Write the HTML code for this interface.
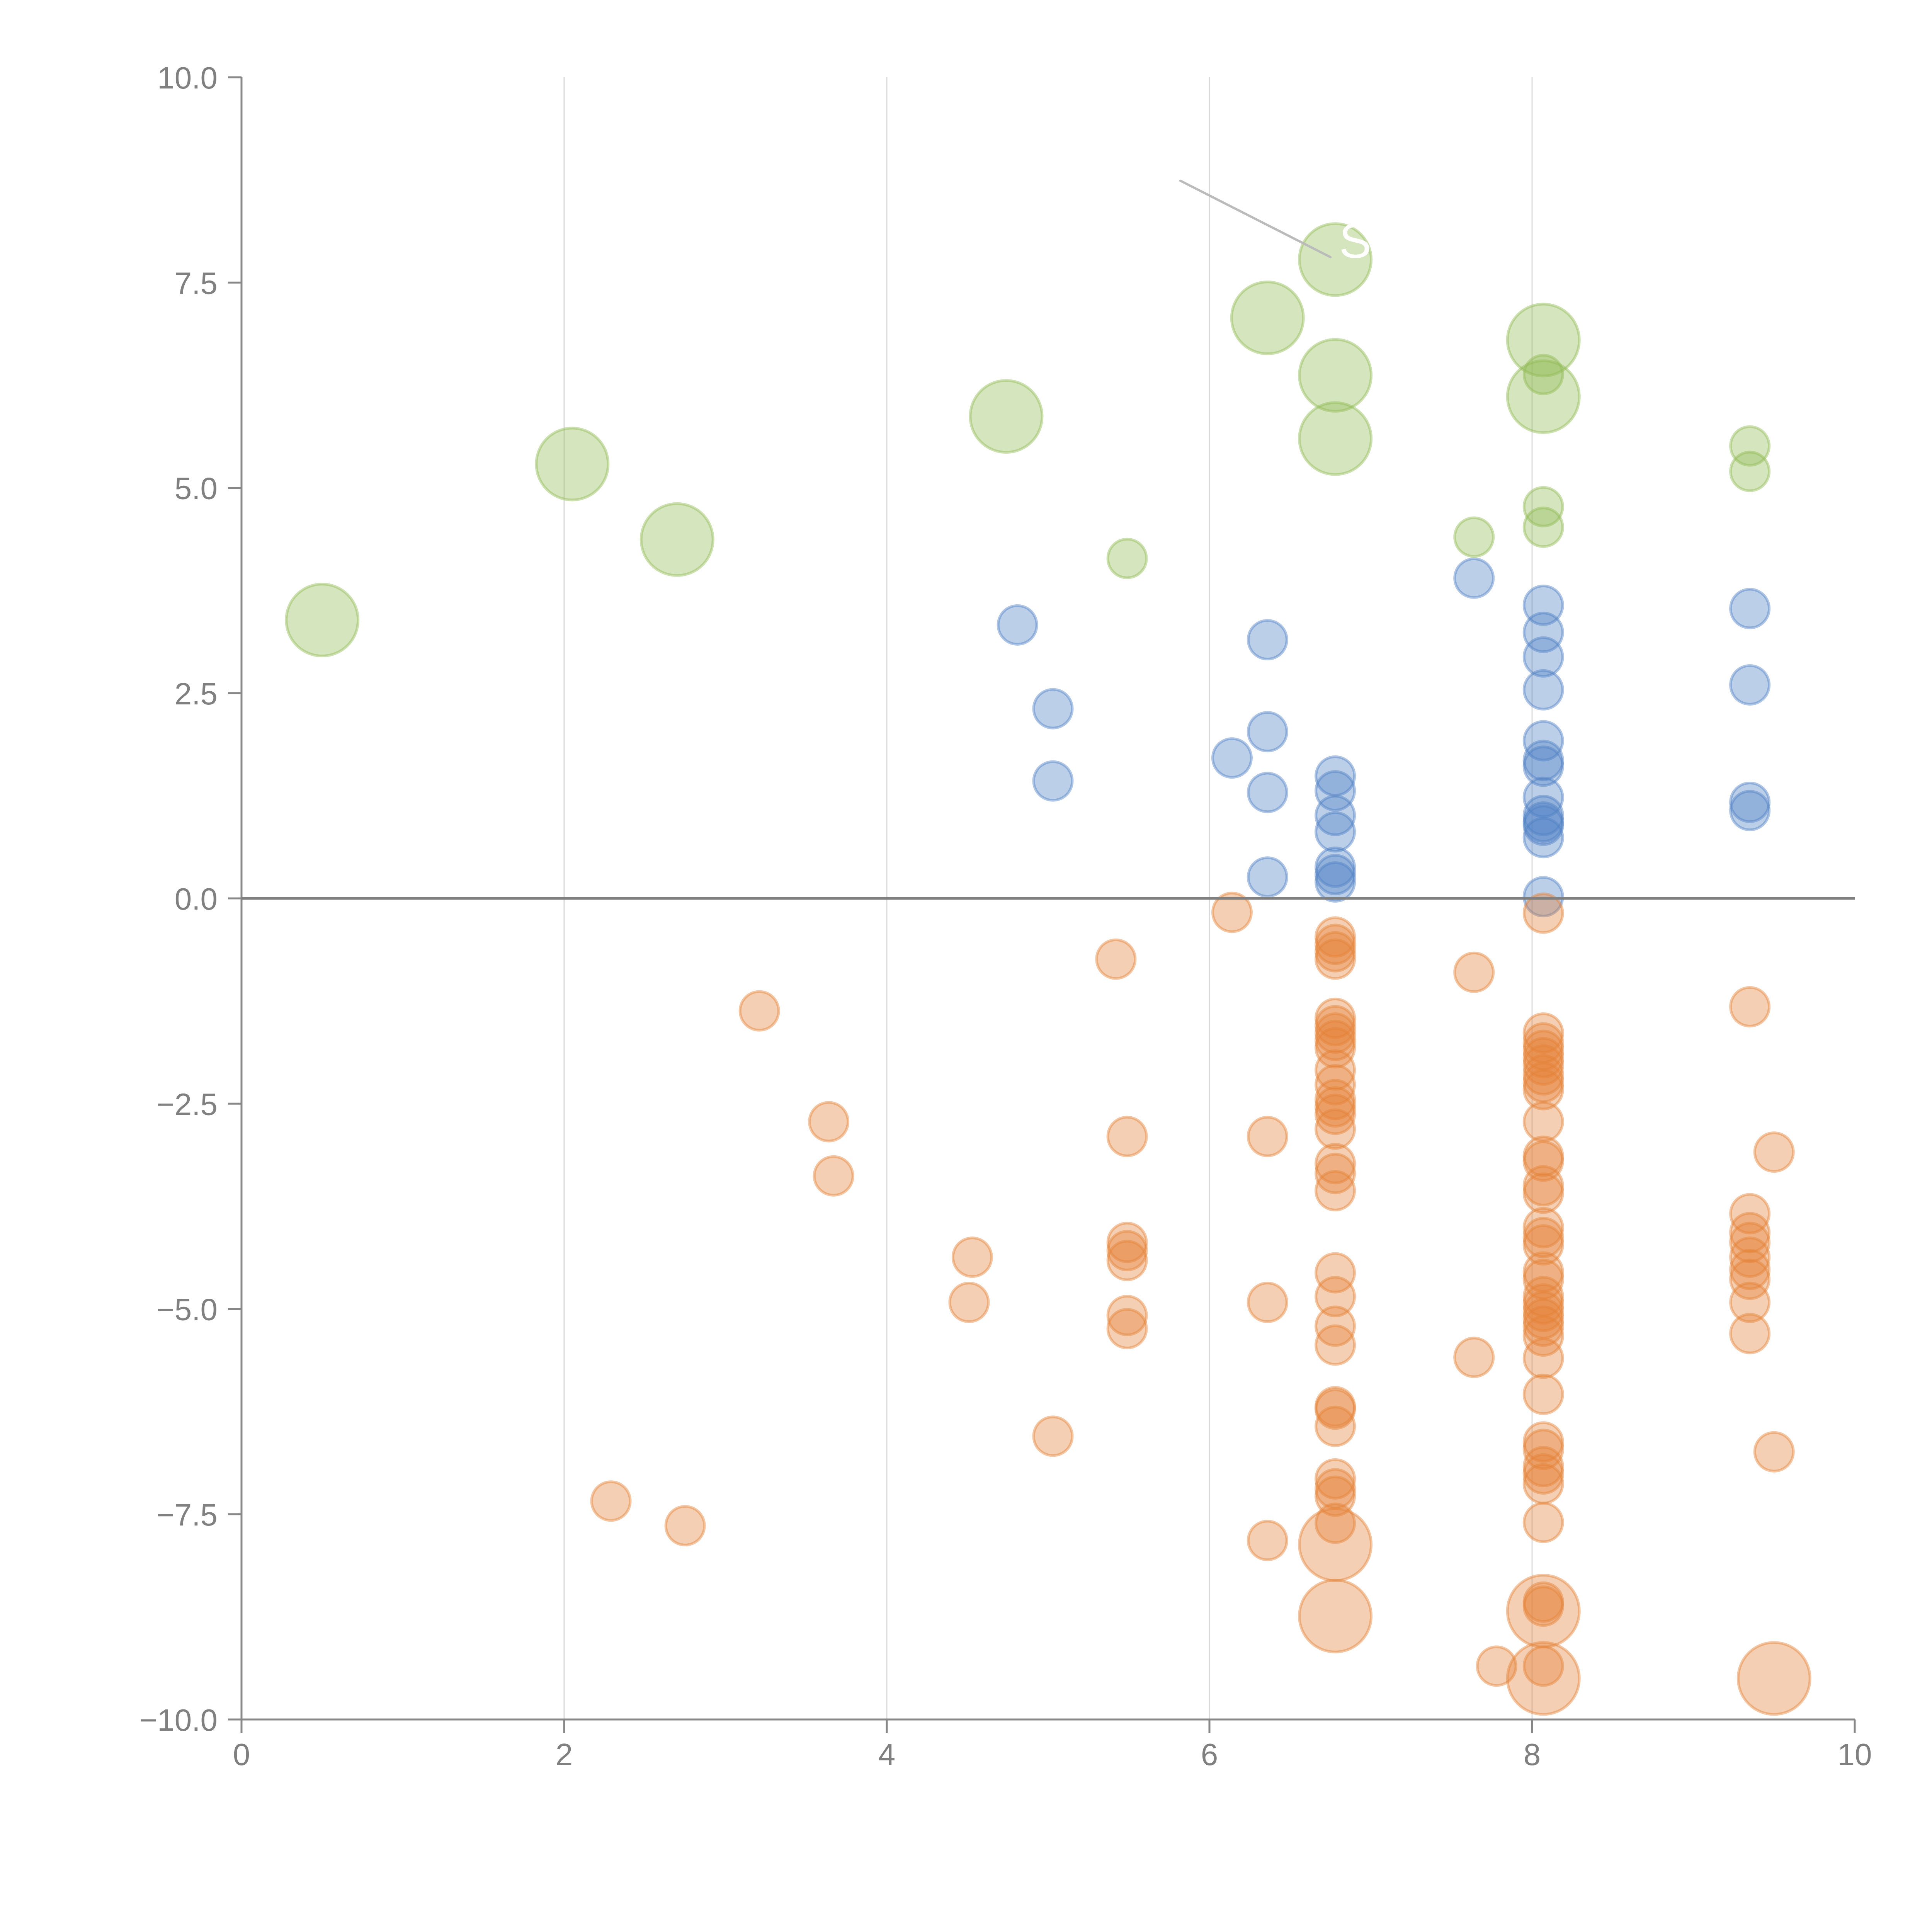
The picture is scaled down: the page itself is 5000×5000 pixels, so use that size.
<!DOCTYPE html>
<html><head><meta charset="utf-8"><style>
html,body{margin:0;padding:0;background:#fff;}
svg{display:block;font-family:"Liberation Sans",Arial,sans-serif;}
</style></head><body>
<svg id="chart" width="5000" height="5000" xmlns="http://www.w3.org/2000/svg">
<g id="grid"></g>
<g id="axes"></g>
<g id="marks"></g>
<g id="annot"></g>
</svg>
<script>
const xTicks = [0,2,4,6,8,10];
const yTicks = [10,7.5,5,2.5,0,-2.5,-5,-7.5,-10];
const greenX = [0.5,2.05,2.70,4.74,5.49,6.36,6.78,6.78,6.78,7.64,8.07,8.07,8.07,8.07,8.07,9.35,9.35];
const greenY = [3.39,5.29,4.37,5.87,4.14,7.07,7.78,6.37,5.60,4.40,6.80,6.38,6.11,4.77,4.52,5.51,5.20];
const greenS = [1,1,1,1,0,1,1,1,1,0,1,0,1,0,0,0,0];
const blueX = [4.81,5.03,5.03,6.14,6.36,6.36,6.36,6.36,6.78,6.78,6.78,6.78,6.78,6.78,6.78,7.64,
 8.07,8.07,8.07,8.07,8.07,8.07,8.07,8.07,8.07,8.07,8.07,8.07,8.07,9.35,9.35,9.35,9.35];
const blueY = [3.33,2.31,1.43,1.71,3.15,2.03,1.29,0.26,1.49,1.31,1.01,0.81,0.38,0.29,0.20,3.90,
 3.57,3.24,2.94,2.54,1.92,1.68,1.61,1.23,1.01,0.93,0.89,0.74,0.02,3.53,2.60,1.17,1.07];
const orangeX = [6.14,5.42,3.21,3.64,3.67,4.53,4.51,5.49,5.49,5.49,5.49,5.49,5.49,5.03,2.29,2.75,6.36,6.36,6.36,
 6.78,6.78,6.78,6.78,6.78,6.78,6.78,6.78,6.78,6.78,6.78,6.78,6.78,6.78,6.78,6.78,6.78,6.78,6.78,6.78,6.78,6.78,6.78,6.78,6.78,6.78,6.78,6.78,6.78,
 7.64,7.64,7.78,
 8.07,8.07,8.07,8.07,8.07,8.07,8.07,8.07,8.07,8.07,8.07,8.07,8.07,8.07,8.07,8.07,8.07,8.07,8.07,8.07,8.07,8.07,8.07,8.07,8.07,8.07,8.07,8.07,8.07,8.07,8.07,8.07,8.07,8.07,8.07,8.07,
 9.35,9.35,9.35,9.35,9.35,9.35,9.35,9.35,9.35,9.50,9.50,
 6.78,6.78,8.07,8.07,9.50];
const orangeY = [-0.17,-0.74,-1.37,-2.72,-3.38,-4.37,-4.92,-2.90,-4.19,-4.29,-4.41,-5.08,-5.24,-6.55,-7.34,-7.64,-2.90,-4.92,-7.82,
 -0.47,-0.56,-0.65,-0.74,-1.46,-1.55,-1.64,-1.73,-1.82,-2.09,-2.27,-2.45,-2.54,-2.63,-2.81,-3.23,-3.35,-3.56,-4.56,-4.85,-5.21,-5.44,-6.19,-6.22,-6.43,-7.07,-7.19,-7.28,-7.61,
 -0.90,-5.59,-9.35,
 -0.18,-1.64,-1.76,-1.85,-1.94,-2.03,-2.15,-2.24,-2.33,-2.72,-3.14,-3.20,-3.50,-3.59,-4.01,-4.13,-4.22,-4.55,-4.64,-4.85,-4.94,-5.03,-5.12,-5.21,-5.33,-5.60,-6.04,-6.62,-6.71,-6.92,-7.01,-7.13,-7.60,-8.57,-8.62,-9.35,
 -1.32,-3.84,-4.07,-4.19,-4.37,-4.52,-4.64,-4.92,-5.30,-3.09,-6.74,
 -7.87,-8.74,-8.68,-9.50,-9.50];
const orangeS = orangeY.map((v,i)=> i>=orangeY.length-5 ? 1 : 0);

const NS="http://www.w3.org/2000/svg";
const X0=625,X1=4800,Y0=4450,Y1=200;
function sx(v){return X0+(v-0)/(10-0)*(X1-X0);}
function sy(v){return Y0-(v+10)/20*(Y0-Y1);}
function mk(tag,attrs,parent){const e=document.createElementNS(NS,tag);for(const k in attrs)e.setAttribute(k,attrs[k]);parent.appendChild(e);return e;}
const grid=document.getElementById('grid'),axes=document.getElementById('axes'),marks=document.getElementById('marks'),annot=document.getElementById('annot');

xTicks.forEach(t=>{
  if(t>0&&t<10){const g=mk('line',{x1:sx(t),x2:sx(t),y1:Y1,y2:Y0,stroke:'#d9d9d9','stroke-width':3},grid);
  
  }
  const tk=mk('line',{x1:sx(t),x2:sx(t),y1:Y0,y2:Y0+35,stroke:'#888','stroke-width':5},axes);
  
  
  const tx=mk('text',{x:sx(t),y:Y0+118,'text-anchor':'middle','font-size':80,fill:'#808080'},axes);
  tx.textContent=String(t);
  
  
});
yTicks.forEach(t=>{
  const tk=mk('line',{x1:X0-35,x2:X0,y1:sy(t),y2:sy(t),stroke:'#888','stroke-width':5},axes);
  
  
  const tx=mk('text',{x:X0-62,y:sy(t)+29,'text-anchor':'end','font-size':80,fill:'#808080'},axes);
  tx.textContent=(t<0?'\u2212':'')+Math.abs(t).toFixed(1);
  
  
});
let a=mk('line',{x1:X0,x2:X0,y1:Y1,y2:Y0,stroke:'#888','stroke-width':5},axes);


a=mk('line',{x1:X0,x2:X1,y1:Y0,y2:Y0,stroke:'#888','stroke-width':5},axes);



function series(xs,ys,ss,fill,name){
  xs.forEach((x,i)=>{
    const r = ss && ss[i] ? 93 : 50;
    const c=mk('circle',{cx:sx(x),cy:sy(ys[i]),r:r,fill:fill,'fill-opacity':0.38,stroke:fill,'stroke-opacity':0.45,'stroke-width':7},marks);
    
    
  });
}
series(greenX,greenY,greenS,'rgb(145,187,85)','green-bubble');
series(blueX,blueY,null,'rgb(80,128,196)','blue-bubble');
series(orangeX,orangeY,orangeS,'rgb(228,130,55)','orange-bubble');

let z=mk('line',{x1:X0,x2:X1,y1:sy(0),y2:sy(0),stroke:'#808080','stroke-width':7},annot);


let l=mk('line',{x1:sx(5.82),y1:sy(8.74),x2:sx(6.75),y2:sy(7.81),stroke:'#bbb','stroke-width':6,'stroke-linecap':'round'},annot);


let s=mk('text',{x:sx(6.78)+10,y:sy(7.78)-5,'font-size':125,fill:'#fff'},annot);
s.textContent='S';


</script>
</body></html>
